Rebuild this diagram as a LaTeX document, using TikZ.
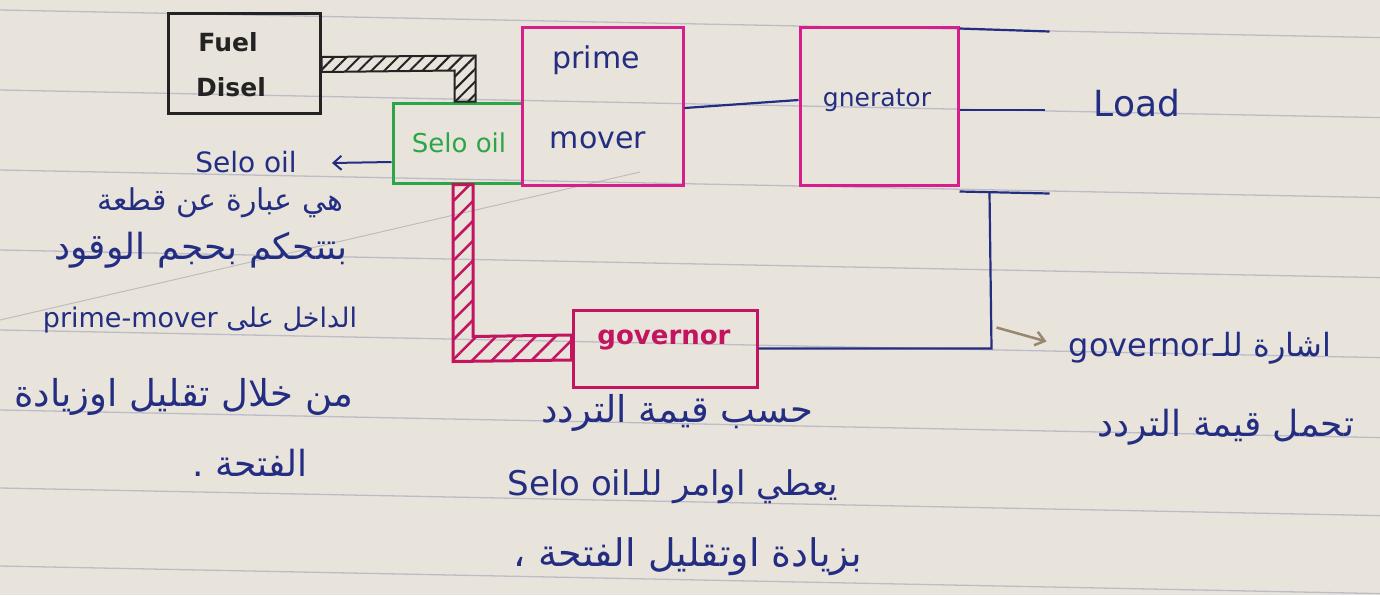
\documentclass[tikz,border=0pt]{standalone}
\usepackage{fontspec}
\setmainfont{DejaVu Sans}
\newfontfamily\arabicfont[Script=Arabic]{DejaVu Sans}
\TeXXeTstate=1
\usetikzlibrary{arrows.meta,patterns.meta,calc}
\definecolor{paper}{RGB}{232,228,219}
\definecolor{rulec}{RGB}{188,188,200}
\definecolor{ink}{RGB}{35,45,130}
\definecolor{mag}{RGB}{215,30,140}
\definecolor{crim}{RGB}{195,20,95}
\definecolor{grn}{RGB}{45,165,70}
\definecolor{blk}{RGB}{35,35,35}
\definecolor{pencil}{RGB}{150,135,110}
\tikzset{
  rule/.style={rulec, line width=1.3pt},
  box/.style={draw, line width=3pt, inner sep=0pt},
  lbl/.style={inner sep=0pt, font=\fontsize{30}{36}\selectfont},
  ar/.style={ink, inner sep=0pt, font=\fontsize{#1}{#1}\selectfont\arabicfont},
  ar/.default=34,
  wire/.style={ink, line width=2.2pt},
}
\begin{document}
\begin{tikzpicture}[x=1pt,y=-1pt]
\useasboundingbox (0,0) rectangle (1380,595);
\fill[paper] (0,0) rectangle (1380,595);
\foreach \y in {10,90,170,250,330,410,488,566}
  \draw[rule] (0,\y) -- (1380,\y+27.6);
\draw[rulec!80!black, line width=1pt, opacity=0.5] (0,320) -- (640,172);

% boxes
\node[box, blk, minimum width=152, minimum height=100] (fuel) at (244,63) {};
\node[box, grn, minimum width=129, minimum height=80] (selo) at (457.5,143) {};
\node[box, mag, minimum width=161, minimum height=158] (pm) at (602.5,106) {};
\node[box, mag, minimum width=158, minimum height=158] (gen) at (879,106) {};
\node[box, crim, minimum width=184, minimum height=77] (gov) at (665,348.5) {};

% box texts
\node[lbl, blk, font=\fontsize{25}{28}\selectfont\bfseries] (tfuel) at (228,42) {Fuel};
\node[lbl, blk, font=\fontsize{25}{28}\selectfont\bfseries] (tdisel) at (231,87) {Disel};
\node[lbl, grn, font=\fontsize{26}{30}\selectfont] (tselo) at (459,143) {Selo oil};
\node[lbl, ink] (tprime) at (596,60) {prime};
\node[lbl, ink] (tmover) at (598,140) {mover};
\node[lbl, ink, font=\fontsize{25}{28}\selectfont] (tgen) at (877,100) {gnerator};
\node[lbl, crim, font=\fontsize{26}{30}\selectfont\bfseries] (tgov) at (664,340) {governor};
\node[lbl, ink, font=\fontsize{36}{40}\selectfont] (load) at (1137,103) {Load};

% fuel pipe (hatched)
\coordinate (p1) at ($(fuel.east)+(0,-6)$);
\coordinate (p2) at ($(selo.north)+(18,-46)$);
\filldraw[blk, line width=2pt, pattern={Lines[angle=45,distance=9pt,line width=2pt]}, pattern color=blk]
  (p1) -- (p2) -- ($(selo.north)+(18,0)$) -- ($(selo.north)+(-3,0)$) -- ($(selo.north)+(-3,-31)$) -- ($(fuel.east)+(0,9)$) -- cycle;

% governor pipe (hatched)
\filldraw[crim, line width=3pt, pattern={Lines[angle=45,distance=14pt,line width=2.5pt]}, pattern color=crim]
  ($(selo.south)+(-4.5,0)$) -- ($(selo.south)+(-4.5,177)$) -- ($(gov.west)+(0,11.5)$) -- ($(gov.west)+(0,-13.5)$)
  -- ($(selo.south)+(15.5,152)$) -- ($(selo.south)+(15.5,0)$) -- cycle;

% wires
\draw[wire] ($(pm.east)+(0,2)$) -- ($(gen.west)+(0,-6)$);
\coordinate (o1) at ($(gen.north east)+(90,6)$);
\coordinate (o2) at ($(gen.east)+(85,4)$);
\coordinate (o3) at ($(gen.south east)+(90,7)$);
\draw[wire] ($(gen.north east)+(0,3)$) -- (o1);
\draw[wire] ($(gen.east)+(0,4)$) -- (o2);
\draw[wire] ($(gen.south east)+(0,5)$) -- (o3);
\coordinate (fbtop) at ($(gen.south east)+(30,6)$);
\coordinate (fbbot) at ($(gov.east)+(233,0)$);
\draw[wire] (fbtop) -- (fbbot) -- (gov.east);

% pencil arrow to governor note
\coordinate (pa1) at ($(fbbot)+(5,-21)$);
\coordinate (pa2) at ($(fbbot)+(55,-7)$);
\draw[pencil, line width=2.5pt, -{Straight Barb[length=9pt,width=14pt]}] (pa1) -- (pa2);

% selo oil label arrow
\node[lbl, ink, font=\fontsize{28}{32}\selectfont] (lselo) at (246,162) {Selo oil};
\draw[ink, line width=2pt, -{Straight Barb[length=8pt,width=14pt]}] ($(selo.west)+(0,19)$) -- ($(lselo.east)+(35,1)$);

% left notes
\node[ar=30] (a1) at (220,203) {\beginR هي عبارة عن قطعة\endR};
\node[ar=36] (a2) at (201,250) {\beginR بتتحكم بحجم الوقود\endR};
\node[ar=27] (a3) at (200,320) {\beginR الداخل على \beginL prime-mover\endL\endR};
\node[ar=37] (a4) at (184,397) {\beginR من خلال تقليل اوزيادة\endR};
\node[ar=36] (a5) at (250,463) {\beginR الفتحة .\endR};

% bottom notes
\node[ar=37] (b1) at (677,413) {\beginR حسب قيمة التردد\endR};
\node[ar=34] (b2) at (673,487) {\beginR يعطي اوامر للـ\beginL Selo oil\endL\endR};
\node[ar=38] (b3) at (688,557) {\beginR بزيادة اوتقليل الفتحة ،\endR};

% right notes
\node[ar=32] (c1) at (1200,348) {\beginR اشارة للـ\beginL governor\endL\endR};
\node[ar=36] (c2) at (1226,427) {\beginR تحمل قيمة التردد\endR};
\end{tikzpicture}
\end{document}
